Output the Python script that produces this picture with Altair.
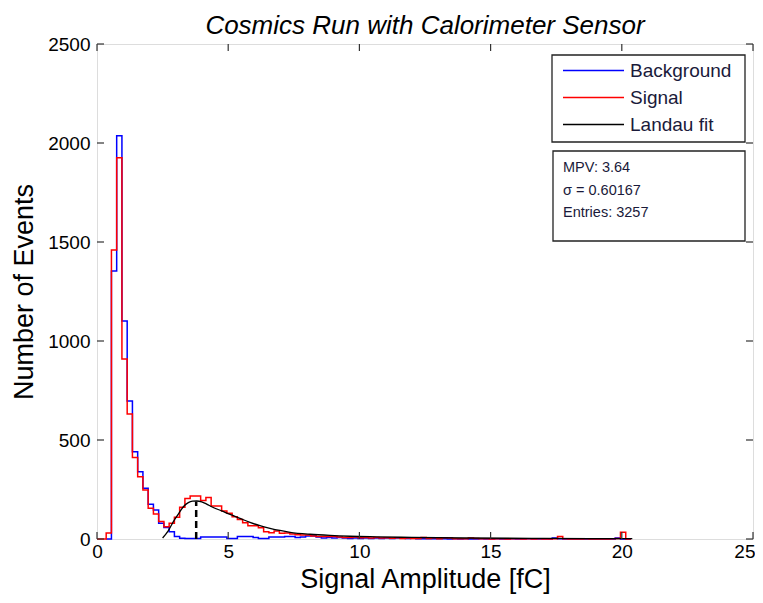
import altair as alt
import pandas as pd

# ---------------- data ----------------
bin_start = 0.35      # left edge of the first histogram bin (fC)
bin_width = 0.2       # histogram bin width (fC)

signal_counts = [30, 1460, 1926, 909, 631, 412, 315, 247, 155, 126,
                 88, 62, 79, 110, 160, 205, 217, 217, 194, 210,
                 167, 167, 141, 130, 113, 99, 82, 67, 67, 57,
                 37, 32, 40, 29, 30, 25, 22, 20, 20, 15,
                 12, 12, 12, 12, 10, 8, 8, 10, 6, 8,
                 5, 8, 5, 6, 4, 6, 3, 5, 3, 2,
                 8, 2, 6, 1, 6, 5, 1, 1, 1, 5,
                 2, 1, 1, 0, 1, 1, 0, 1, 1, 0,
                 1, 0, 1, 0, 0, 1, 12, 1, 0, 0,
                 0, 1, 0, 0, 0, 0, 1, 3, 34, 0]

background_counts = [0, 1353, 2037, 1101, 697, 441, 340, 256, 176, 146,
                     80, 58, 37, 12, 4, 2, 2, 2, 10, 10,
                     10, 10, 10, 3, 3, 12, 12, 12, 8, 3,
                     3, 10, 10, 10, 12, 12, 8, 10, 15, 15,
                     10, 5, 8, 5, 8, 5, 3, 5, 3, 5,
                     3, 5, 3, 5, 3, 5, 4, 3, 4, 1,
                     1, 1, 1, 1, 1, 0, 1, 0, 1, 0,
                     0, 1, 0, 0, 1, 0, 0, 1, 0, 0,
                     1, 0, 0, 0, 0, 5, 1, 0, 0, 0,
                     0, 0, 0, 0, 0, 0, 0, 5, 0, 0]

fit_x = [2.5, 2.72, 2.91, 3.10, 3.29, 3.48, 3.64, 3.8, 3.99, 4.2, 4.37, 4.75,
         5.07, 5.45, 5.83, 6.21, 6.59, 6.97, 7.36, 8.12, 8.88, 9.64, 10.66,
         12.0, 14.0, 17.0, 20.4]
fit_y = [5, 42, 88, 126, 163, 184, 191, 192, 188, 175, 163, 142,
         124, 104, 84, 67, 54, 43, 34, 24, 18, 14, 11,
         8, 5, 3, 2]

mpv_x = [3.78]
mpv_top = [190]

x_ticks = [0, 5, 10, 15, 20, 25]
y_ticks = [0, 500, 1000, 1500, 2000, 2500]

legend_labels = ["Background", "Signal", "Landau fit"]
legend_colors = ["#0000ff", "#ff0000", "#000000"]
stats_lines = ["MPV: 3.64", "\u03c3 = 0.60167", "Entries: 3257"]

title_text = "Cosmics Run with Calorimeter Sensor"
x_title = "Signal Amplitude [fC]"
y_title = "Number of Events"

# ---------------- layout ----------------
W, H = 656, 495
FONT = "Liberation Sans"


def step_frame(counts, first_x):
    xs, ys = [first_x], [0]
    for i, c in enumerate(counts):
        xs.append(round(bin_start + i * bin_width, 4))
        ys.append(c)
    xs.append(round(bin_start + len(counts) * bin_width, 4))
    ys.append(0)
    return pd.DataFrame({"x": xs, "y": ys, "idx": list(range(len(xs)))})


sig_df = step_frame(signal_counts, 0.0)
bg_df = step_frame(background_counts, bin_start)
fit_df = pd.DataFrame({"x": fit_x, "y": fit_y})
mpv_df = pd.DataFrame({"x": mpv_x, "y": [0] * len(mpv_x), "y2": mpv_top})

xs = alt.Scale(domain=[0, 25], nice=False, zero=False)
ys = alt.Scale(domain=[0, 2500], nice=False)

xaxis = alt.Axis(values=x_ticks, tickSize=0, domain=False, grid=False,
                 labelFontSize=19, labelFont=FONT, labelColor="black",
                 labelPadding=3, labelFlush=False, format="d",
                 labelAlign={"condition": {"test": "datum.value >= 25", "value": "right"},
                             "value": "center"},
                 labelOffset={"condition": {"test": "datum.value >= 25", "value": 2},
                              "value": 0},
                 title=x_title, titleFont=FONT, titleFontSize=27,
                 titleFontWeight="normal", titleColor="black",
                 titleY=40, titleBaseline="middle")
yaxis = alt.Axis(values=y_ticks, tickSize=0, domain=False, grid=False,
                 labelFontSize=19, labelFont=FONT, labelColor="black",
                 labelPadding=7, labelFlush=False, format="d",
                 title=y_title, titleFont=FONT, titleFontSize=27,
                 titleFontWeight="normal", titleColor="black",
                 titleX=-73, titleY=H / 2, titleBaseline="middle")

X = alt.X("x:Q", scale=xs, axis=xaxis)
Y = alt.Y("y:Q", scale=ys, axis=yaxis)

bg_line = alt.Chart(bg_df).mark_line(interpolate="step-after", color="#0000ff",
                                     strokeWidth=1.5).encode(x=X, y=Y, order="idx:Q")
sig_line = alt.Chart(sig_df).mark_line(interpolate="step-after", color="#ff0000",
                                       strokeWidth=1.5).encode(x=X, y=Y, order="idx:Q")
fit_line = alt.Chart(fit_df).mark_line(interpolate="monotone", color="black",
                                       strokeWidth=1.3).encode(x=X, y=Y)
mpv_line = alt.Chart(mpv_df).mark_rule(color="black", strokeWidth=2.5,
                                       strokeDash=[7, 4]).encode(x=X, y=Y, y2="y2:Q")

# inward tick marks on all four sides
xt_df = pd.DataFrame({"x": x_ticks})
yt_df = pd.DataFrame({"y": y_ticks})
xt_bottom = alt.Chart(xt_df).mark_rule(color="#333333", strokeWidth=1.2).encode(
    x=X, y=alt.value(H), y2=alt.value(H - 7))
xt_top = alt.Chart(xt_df).mark_rule(color="#333333", strokeWidth=1.2).encode(
    x=X, y=alt.value(0), y2=alt.value(7))
yt_left = alt.Chart(yt_df).mark_rule(color="#333333", strokeWidth=1.2).encode(
    y=Y, x=alt.value(0), x2=alt.value(7))
yt_right = alt.Chart(yt_df).mark_rule(color="#333333", strokeWidth=1.2).encode(
    y=Y, x=alt.value(W), x2=alt.value(W - 7))

# legend box
one = pd.DataFrame({"k": [0]})
leg_box = alt.Chart(one).mark_rect(fill="white", stroke="#222222", strokeWidth=1.3).encode(
    x=alt.value(455), x2=alt.value(648), y=alt.value(11), y2=alt.value(98))
stats_box = alt.Chart(one).mark_rect(fill="white", stroke="#222222", strokeWidth=1.3).encode(
    x=alt.value(456), x2=alt.value(648), y=alt.value(107), y2=alt.value(197))

legend_layers = []
row_y = [26.5, 53.5, 80.5]
for lab, col, ry in zip(legend_labels, legend_colors, row_y):
    legend_layers.append(
        alt.Chart(one).mark_rule(color=col, strokeWidth=1.3).encode(
            x=alt.value(466), x2=alt.value(527), y=alt.value(ry)))
    legend_layers.append(
        alt.Chart(one).mark_text(text=lab, align="left", baseline="middle",
                                 font=FONT, fontSize=19, color="#1a1a3a").encode(
            x=alt.value(533), y=alt.value(ry)))

stats_layers = []
stat_y = [124, 146.5, 169]
for line, sy in zip(stats_lines, stat_y):
    stats_layers.append(
        alt.Chart(one).mark_text(text=line, align="left", baseline="middle",
                                 font=FONT, fontSize=14.5, color="#1a1a3a").encode(
            x=alt.value(466), y=alt.value(sy)))

chart = alt.layer(
    bg_line, sig_line, fit_line, mpv_line,
    xt_bottom, xt_top, yt_left, yt_right,
    leg_box, *legend_layers, stats_box, *stats_layers,
).properties(
    width=W, height=H,
    title=alt.TitleParams(title_text, font=FONT, fontSize=26, fontStyle="italic",
                          fontWeight="normal", color="black", anchor="middle",
                          offset=5, dy=9),
    autosize=alt.AutoSizeParams(type="none"),
    padding={"left": 89, "top": 36, "right": 2, "bottom": 56},
).configure_view(stroke="#222222", strokeWidth=1.3).configure(background="white")

chart.save("out.html", embed_options={"renderer": "svg", "actions": False})
